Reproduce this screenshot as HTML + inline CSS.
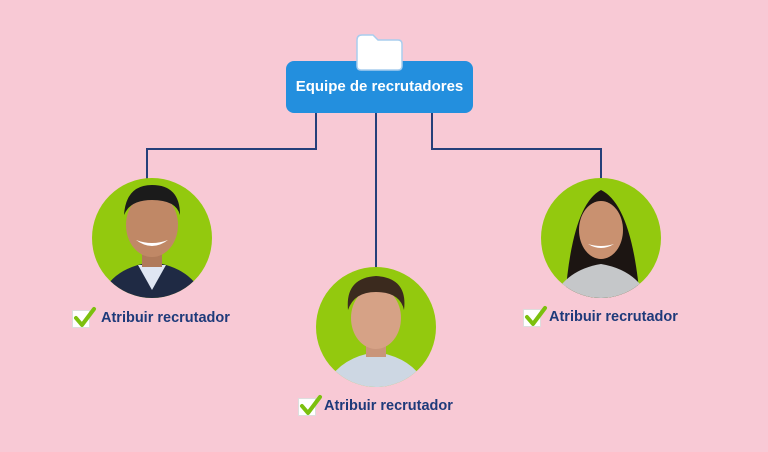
<!DOCTYPE html>
<html><head><style>
body{margin:0;width:768px;height:452px;background:#f8c9d5;position:relative;overflow:hidden;font-family:"Liberation Sans",sans-serif}
.box{position:absolute;left:286px;top:61px;width:187px;height:52px;background:#238fde;border-radius:8px;color:#fff;font-weight:bold;font-size:15px;line-height:52px;text-align:center}
.lbl{position:absolute;color:#1e3a7a;font-weight:bold;font-size:14.5px}
.cb{position:absolute;width:16px;height:16px;background:#fff;border:1px solid #ddd}
</style></head><body>
<svg width="768" height="452" style="position:absolute;left:0;top:0">
<g fill="none" stroke="#253f7a" stroke-width="2">
<path d="M316 113V149H147V182"/><path d="M376 113V270"/><path d="M432 113V149H601V182"/>
</g>
<defs>
<clipPath id="c1"><circle cx="152" cy="238" r="60"/></clipPath>
<clipPath id="c2"><circle cx="376" cy="327" r="60"/></clipPath>
<clipPath id="c3"><circle cx="601" cy="238" r="60"/></clipPath>
</defs>
<circle cx="152" cy="238" r="60" fill="#93c90e"/>
<g clip-path="url(#c1)">
<path d="M100 300Q110 268 152 262Q194 268 204 300Z" fill="#1f2a44"/>
<path d="M138 265L152 290L166 265Z" fill="#dfe6f2"/>
<rect x="142" y="245" width="20" height="22" fill="#b07a5a"/>
<ellipse cx="152" cy="225" rx="26" ry="32" fill="#c08866"/>
<path d="M124 215Q126 185 152 185Q180 185 180 215Q176 200 152 200Q130 200 124 215Z" fill="#1b1b1b"/>
<path d="M136 240Q152 252 168 240Q152 246 136 240Z" fill="#fff"/>
</g>
<circle cx="376" cy="327" r="60" fill="#93c90e"/>
<g clip-path="url(#c2)">
<path d="M324 390Q336 358 376 352Q416 358 428 390Z" fill="#cdd7e3"/>
<rect x="366" y="335" width="20" height="22" fill="#c9957a"/>
<ellipse cx="376" cy="318" rx="25" ry="31" fill="#d6a286"/>
<path d="M348 310Q345 278 376 276Q408 278 404 310Q400 292 376 292Q354 292 348 310Z" fill="#3b2a1e"/>
</g>
<circle cx="601" cy="238" r="60" fill="#93c90e"/>
<g clip-path="url(#c3)">
<path d="M565 300Q572 205 601 190Q632 205 640 300Z" fill="#1c1512"/>
<path d="M552 300Q565 270 601 264Q637 270 650 300Z" fill="#c5c7c9"/>
<ellipse cx="601" cy="230" rx="22" ry="29" fill="#c99170"/>
<path d="M588 244Q601 252 614 244Q601 248 588 244Z" fill="#fff"/>
</g>
</svg>
<div class="box">Equipe de recrutadores</div>
<div class="cb" style="left:72px;top:310px"></div>
<div class="cb" style="left:298px;top:398px"></div>
<div class="cb" style="left:523px;top:309px"></div>
<svg width="768" height="452" style="position:absolute;left:0;top:0">
<path d="M357 40Q357 35 362 35H373L378 40H398Q402 40 402 44V66Q402 70 398 70H361Q357 70 357 66Z" fill="#fff" stroke="#a9cdee" stroke-width="1.5"/>
<g fill="none" stroke="#7cc00e" stroke-width="4" stroke-linecap="round" stroke-linejoin="round">
<path d="M76 318L82 325L94 309"/><path d="M302 406L308 413L320 397"/><path d="M527 317L533 324L545 308"/>
</g></svg>
<div class="lbl" style="left:101px;top:310px">Atribuir recrutador</div>
<div class="lbl" style="left:324px;top:398px">Atribuir recrutador</div>
<div class="lbl" style="left:549px;top:309px">Atribuir recrutador</div>
</body></html>
